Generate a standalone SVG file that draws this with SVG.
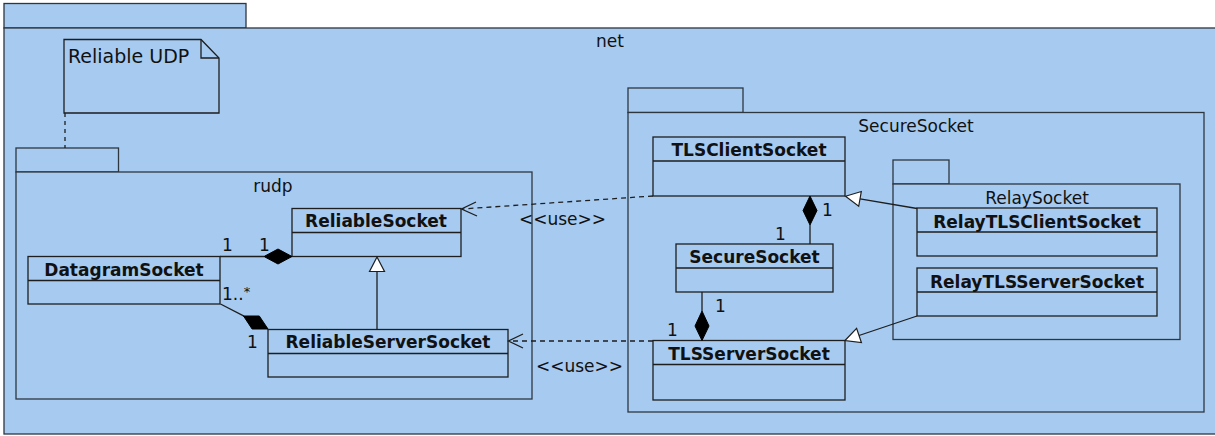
<svg xmlns="http://www.w3.org/2000/svg" width="1215" height="436" viewBox="0 0 1215 436">
<defs>
<style>
.pkg{fill:#a6caf0;stroke:#2e3640;stroke-width:1.3}
.cls{fill:#a6caf0;stroke:#1e1e1e;stroke-width:1.3}
.div{stroke:#1e1e1e;stroke-width:1.3;fill:none}
.t{font-family:"DejaVu Sans","Liberation Sans",sans-serif;font-size:17px;fill:#111}
.b{font-family:"DejaVu Sans","Liberation Sans",sans-serif;font-size:17px;font-weight:bold;fill:#111;text-anchor:middle}
.c{text-anchor:middle}
.ln{stroke:#1e1e1e;stroke-width:1.3;fill:none}
.dash{stroke:#1e1e1e;stroke-width:1.3;fill:none;stroke-dasharray:5,4}
.dia{fill:#000;stroke:#000;stroke-width:1}
.tri{fill:#fff;stroke:#1e1e1e;stroke-width:1.2}
</style>
</defs>
<rect x="0" y="0" width="1215" height="436" fill="#ffffff"/>

<g id="pkg-net">
<rect class="pkg" x="4" y="3.5" width="242" height="24.5"/>
<rect class="pkg" x="4" y="28" width="1214" height="406"/>
<text class="t c" x="610" y="47">net</text>
</g>

<g id="note-reliable-udp">
<path class="cls" d="M64,39.5 H201 L219,58 V113 H64 Z"/>
<path class="div" d="M201,39.5 V58 H219"/>
<text class="t" x="68" y="63" style="font-size:19px">Reliable UDP</text>
</g>

<g id="pkg-rudp">
<rect class="pkg" x="16" y="148" width="102.5" height="24"/>
<rect class="pkg" x="16" y="172" width="516" height="227"/>
<text class="t c" x="273" y="192">rudp</text>
</g>

<g id="pkg-securesocket">
<rect class="pkg" x="628" y="88" width="115" height="24.5"/>
<rect class="pkg" x="628" y="112.5" width="576" height="299.5"/>
<text class="t c" x="916" y="132">SecureSocket</text>
</g>

<g id="pkg-relaysocket">
<rect class="pkg" x="893" y="160" width="56" height="24"/>
<rect class="pkg" x="893" y="184" width="287" height="155.5"/>
<text class="t c" x="1037" y="204">RelaySocket</text>
</g>

<g id="cls-reliablesocket">
<rect class="cls" x="292" y="208.5" width="169" height="48"/>
<line class="div" x1="292" y1="232.5" x2="461" y2="232.5"/>
<text class="b" x="376" y="227">ReliableSocket</text>
</g>

<g id="cls-datagramsocket">
<rect class="cls" x="28" y="256.5" width="192" height="47.5"/>
<line class="div" x1="28" y1="280.5" x2="220" y2="280.5"/>
<text class="b" x="124" y="276">DatagramSocket</text>
</g>

<g id="cls-reliableserversocket">
<rect class="cls" x="268" y="329.5" width="240" height="47.5"/>
<line class="div" x1="268" y1="353.5" x2="508" y2="353.5"/>
<text class="b" x="388" y="348">ReliableServerSocket</text>
</g>

<g id="cls-tlsclientsocket">
<rect class="cls" x="653" y="137" width="192" height="59"/>
<line class="div" x1="653" y1="161" x2="845" y2="161"/>
<text class="b" x="749" y="156">TLSClientSocket</text>
</g>

<g id="cls-securesocket">
<rect class="cls" x="676" y="244" width="157" height="48"/>
<line class="div" x1="676" y1="268" x2="833" y2="268"/>
<text class="b" x="754.5" y="263">SecureSocket</text>
</g>

<g id="cls-tlsserversocket">
<rect class="cls" x="653" y="340.5" width="192" height="59.5"/>
<line class="div" x1="653" y1="364.5" x2="845" y2="364.5"/>
<text class="b" x="749" y="360">TLSServerSocket</text>
</g>

<g id="cls-relaytlsclientsocket">
<rect class="cls" x="917" y="208" width="240" height="48"/>
<line class="div" x1="917" y1="232" x2="1157" y2="232"/>
<text class="b" x="1037" y="228">RelayTLSClientSocket</text>
</g>

<g id="cls-relaytlsserversocket">
<rect class="cls" x="917" y="268" width="240" height="48"/>
<line class="div" x1="917" y1="292" x2="1157" y2="292"/>
<text class="b" x="1037" y="288">RelayTLSServerSocket</text>
</g>

<g id="connectors">
<!-- note link -->
<line class="dash" x1="65" y1="113" x2="65" y2="148" style="stroke-dasharray:4,4"/>

<!-- Datagram -> ReliableSocket composition -->
<line class="ln" x1="220" y1="256.5" x2="264" y2="256.5"/>
<polygon class="dia" points="292,256.5 278,249 264,256.5 278,264"/>
<text class="t" x="222" y="251">1</text>
<text class="t" x="259" y="251">1</text>

<!-- Datagram -> ReliableServerSocket composition -->
<line class="ln" x1="220.5" y1="304" x2="244" y2="316.2"/>
<polygon class="dia" points="268,329 252.1,329 243.5,316 259.3,316"/>
<text class="t" x="222" y="300">1..<tspan font-size="13" dy="-4">*</tspan></text>
<text class="t" x="247" y="348">1</text>

<!-- ReliableServerSocket -> ReliableSocket generalization -->
<line class="ln" x1="377" y1="329.5" x2="377" y2="271.5"/>
<polygon class="tri" points="377,257 369.5,271.5 384.5,271.5"/>

<!-- TLSClientSocket ..> ReliableSocket -->
<line class="dash" x1="653" y1="196" x2="462" y2="209"/>
<polyline class="ln" points="476,202 461.5,209 477,216"/>
<text class="t" x="519" y="225">&lt;&lt;use&gt;&gt;</text>

<!-- TLSServerSocket ..> ReliableServerSocket -->
<line class="dash" x1="653" y1="341" x2="509" y2="341"/>
<polyline class="ln" points="523,334 508.5,341 523,348"/>
<text class="t" x="536" y="372">&lt;&lt;use&gt;&gt;</text>

<!-- SecureSocket -> TLSClientSocket composition -->
<line class="ln" x1="810" y1="225" x2="810" y2="244"/>
<polygon class="dia" points="810,196 817,210.5 810,225 803,210.5"/>
<text class="t" x="822" y="216">1</text>
<text class="t" x="775" y="240">1</text>

<!-- SecureSocket -> TLSServerSocket composition -->
<line class="ln" x1="702" y1="292" x2="702" y2="311"/>
<polygon class="dia" points="702,340.5 709,326 702,311 695,326"/>
<text class="t" x="715" y="312">1</text>
<text class="t" x="667" y="336">1</text>

<!-- RelayTLSClientSocket -> TLSClientSocket generalization -->
<line class="ln" x1="917" y1="208.5" x2="860" y2="198.8"/>
<polygon class="tri" points="845.5,196.3 861.3,191.5 858.7,206.3"/>

<!-- RelayTLSServerSocket -> TLSServerSocket generalization -->
<line class="ln" x1="917" y1="316" x2="859" y2="335.5"/>
<polygon class="tri" points="845,340.5 856.6,328.4 861.4,342.6"/>
</g>
</svg>
